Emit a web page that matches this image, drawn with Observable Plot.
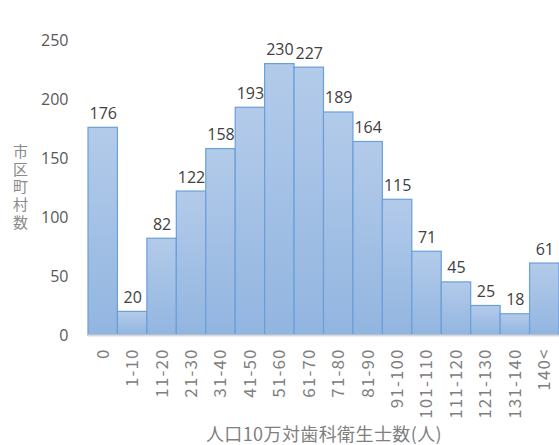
<!DOCTYPE html>
<html>
<head>
<meta charset="utf-8">
<script src="https://cdn.jsdelivr.net/npm/d3@7"></script>
<script src="https://cdn.jsdelivr.net/npm/@observablehq/plot@0.6"></script>
<style>
  html, body { margin: 0; padding: 0; background: #fff; }
  #chart svg { display: block; }
  #chart g[aria-label="x-axis tick label"] text { letter-spacing: 1.1px; }
  #chart g.x-title text { letter-spacing: 0.4px; }
  #chart g.y-title text { writing-mode: vertical-rl; text-orientation: upright; letter-spacing: 2.6px; }
</style>
</head>
<body>
<div id="chart"></div>
<script>
// Dental hygienists per 100k population: number of municipalities in each bin
const bins = ["0", "1-10", "11-20", "21-30", "31-40", "41-50", "51-60", "61-70",
  "71-80", "81-90", "91-100", "101-110", "111-120", "121-130", "131-140", "140<"];
const counts = [176, 20, 82, 122, 158, 193, 230, 227, 189, 164, 115, 71, 45, 25, 18, 61];
const yTicks = [0, 50, 100, 150, 200, 250];
const xTitle = "人口10万対歯科衛生士数(人)";
const yTitle = "市区町村数";

const data = bins.map((bin, i) => ({bin, count: counts[i]}));
const cjk = "'Noto Sans CJK JP', sans-serif";

const chart = Plot.plot({
  width: 559,
  height: 445,
  marginLeft: 88,
  marginRight: 0,
  marginTop: 40,
  marginBottom: 110,
  style: {fontFamily: "'Open Sans', 'Noto Sans CJK JP', sans-serif", background: "#fff"},
  x: {type: "band", domain: bins, padding: 0, round: false},
  y: {domain: [0, 250]},
  marks: [
    Plot.barY(data, {x: "bin", y: "count", fill: "url(#barGrad)", stroke: "#6a9fd9", strokeWidth: 1.2}),
    Plot.ruleY([0], {stroke: "#d9d9d9", strokeWidth: 2}),
    Plot.text(data, {x: "bin", y: "count", text: d => String(d.count), dy: -9, lineAnchor: "bottom",
      fill: "#404040", fontSize: 16}),
    Plot.axisY({ticks: yTicks, tickSize: 0, tickPadding: 20, label: null, fontSize: 16, color: "#595959"}),
    Plot.axisX({tickSize: 0, tickPadding: 13, tickRotate: -90, label: null, fontSize: 17,
      fontFamily: cjk, color: "#808080"}),
    Plot.text([xTitle], {frameAnchor: "bottom", dy: 100, lineAnchor: "middle", fill: "#7f7f7f",
      fontSize: 18, fontFamily: cjk, className: "x-title"}),
    // vertical (top-to-bottom) axis title, set in vertical writing mode
    Plot.text([yTitle], {frameAnchor: "left", dx: -68, textAnchor: "middle", fill: "#8a8a8a",
      fontSize: 15, fontFamily: cjk, className: "y-title"})
  ]
});

// vertical writing centres each glyph on the x position; no baseline shift needed
d3.select(chart).selectAll("g.y-title text").attr("dy", null).attr("y", null);

// vertical gradient for each bar: lighter at the top, deeper at the base
const svg = d3.select(chart);
const grad = svg.insert("defs", ":first-child").append("linearGradient")
  .attr("id", "barGrad").attr("x1", 0).attr("y1", 0).attr("x2", 0).attr("y2", 1);
grad.append("stop").attr("offset", "0%").attr("stop-color", "#b3cbea");
grad.append("stop").attr("offset", "100%").attr("stop-color", "#92b5e0");

document.getElementById("chart").appendChild(chart);
</script>
</body>
</html>
